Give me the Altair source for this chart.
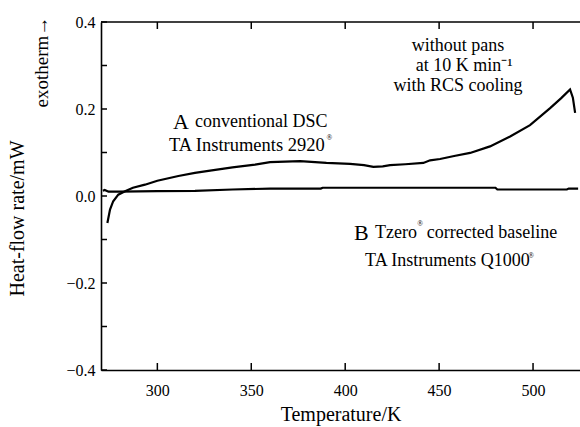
import altair as alt
import pandas as pd

# Curve A: conventional DSC (TA Instruments 2920)
T_A = [273.4, 274.8, 276.5, 279.2, 282.8, 287.0, 293.4, 300.0, 311.2, 320.0, 329.0,
       340.0, 352.0, 360.0, 376.0, 390.0, 402.6, 410.0, 415.0, 420.0, 423.9, 432.0,
       441.6, 445.2, 450.5, 458.0, 466.5, 477.1, 487.8, 498.4, 509.1, 515.0, 519.7,
       521.2, 522.4]
v_A = [-0.062, -0.031, -0.012, 0.003, 0.011, 0.019, 0.026, 0.035, 0.046, 0.053, 0.059,
       0.066, 0.072, 0.078, 0.080, 0.076, 0.074, 0.071, 0.067, 0.068, 0.071, 0.073,
       0.076, 0.082, 0.085, 0.092, 0.099, 0.114, 0.137, 0.163, 0.202, 0.225, 0.245,
       0.226, 0.191]

# Curve B: Tzero corrected baseline (TA Instruments Q1000)
T_B = [271.0, 272.0, 274.0, 280.0, 300.0, 320.0, 340.0, 360.0, 387.0, 388.0, 440.0,
       480.0, 481.0, 518.0, 519.0, 524.0]
v_B = [0.012, 0.014, 0.010, 0.010, 0.011, 0.012, 0.015, 0.017, 0.017, 0.019, 0.019,
       0.019, 0.015, 0.015, 0.017, 0.017]

x_ticks = [300, 350, 400, 450, 500]
y_ticks = [-0.4, -0.3, -0.2, -0.1, 0.0, 0.1, 0.2, 0.3, 0.4]
y_labels = [-0.4, -0.2, 0.0, 0.2, 0.4]

W, H = 479, 348
FONT = "Liberation Serif"

curves = pd.concat([
    pd.DataFrame({"T": T_A, "v": v_A, "s": "A"}),
    pd.DataFrame({"T": T_B, "v": v_B, "s": "B"}),
])

xs = alt.Scale(domain=[270, 525], nice=False, zero=False)
ys = alt.Scale(domain=[-0.4, 0.4], nice=False, zero=False)

lines = alt.Chart(curves).mark_line(color="black", strokeWidth=2.2).encode(
    x=alt.X("T:Q", scale=xs,
            axis=alt.Axis(values=x_ticks, format="d", title="Temperature/K",
                          ticks=False, labelPadding=12, titlePadding=6,
                          domainColor="black", domainWidth=1.6)),
    y=alt.Y("v:Q", scale=ys,
            axis=alt.Axis(values=y_labels, format=".1f", title="Heat-flow rate/mW",
                          ticks=False, labelPadding=6, titleX=-84, titleY=196,
                          titleBaseline="middle",
                          domainColor="black", domainWidth=1.6)),
    detail="s:N",
)

# inward ticks
left_ticks = alt.Chart(pd.DataFrame({"v": y_ticks})).mark_rule(color="black", strokeWidth=1.5).encode(
    y=alt.Y("v:Q", scale=ys), x=alt.value(0), x2=alt.value(6))
bottom_ticks = alt.Chart(pd.DataFrame({"T": x_ticks})).mark_rule(color="black", strokeWidth=1.5).encode(
    x=alt.X("T:Q", scale=xs), y=alt.value(H), y2=alt.value(H - 7))
top_ticks = alt.Chart(pd.DataFrame({"T": x_ticks})).mark_rule(color="black", strokeWidth=1.5).encode(
    x=alt.X("T:Q", scale=xs), y=alt.value(0), y2=alt.value(7))
top_line = alt.Chart(pd.DataFrame({"a": [0]})).mark_rule(color="black", strokeWidth=1.6).encode(
    x=alt.value(0), x2=alt.value(W), y=alt.value(0))

# annotations
ann_left = pd.DataFrame({
    "text": ["A", "conventional DSC", "TA Instruments 2920", "B", "Tzero", "corrected baseline",
             "TA Instruments Q1000"],
    "T": [308.3, 320.0, 306.2, 404.7, 415.9, 443.4, 410.6],
    "v": [0.171, 0.171, 0.118, -0.085, -0.085, -0.085, -0.150],
    "size": [22, 18, 18.5, 22, 18, 18, 18],
})
ann_sup = pd.DataFrame({
    "text": ["®", "®", "®"],
    "T": [390.0, 438.4, 497.5],
    "v": [0.134, -0.064, -0.137],
})
ann_center = pd.DataFrame({
    "text": ["without pans", "at 10 K min\u207b\u00b9", "with RCS cooling"],
    "T": [460.1, 463.3, 460.1],
    "v": [0.344, 0.298, 0.252],
})

t_left = alt.Chart(ann_left).mark_text(align="left", baseline="middle", font=FONT, color="black").encode(
    x=alt.X("T:Q", scale=xs), y=alt.Y("v:Q", scale=ys), text="text:N",
    size=alt.Size("size:Q", scale=None, legend=None))
t_sup = alt.Chart(ann_sup).mark_text(align="left", baseline="middle", font=FONT, color="black", fontSize=7.5).encode(
    x=alt.X("T:Q", scale=xs), y=alt.Y("v:Q", scale=ys), text="text:N")
t_center = alt.Chart(ann_center).mark_text(align="center", baseline="middle", font=FONT, color="black", fontSize=18).encode(
    x=alt.X("T:Q", scale=xs), y=alt.Y("v:Q", scale=ys), text="text:N")

exo = alt.Chart(pd.DataFrame({"text": ["exotherm\u2192"]})).mark_text(
    angle=270, align="center", baseline="middle", font=FONT, fontSize=19, color="black").encode(
    x=alt.value(-59), y=alt.value(40), text="text:N")

chart = alt.layer(lines, left_ticks, bottom_ticks, top_ticks, top_line,
                  t_left, t_sup, t_center, exo).properties(
    width=W, height=H,
    padding={"left": 101, "top": 22, "right": 0, "bottom": 57},
    autosize=alt.AutoSizeParams(type="none"),
    background="white",
).configure_view(stroke=None).configure_axis(
    labelFont=FONT, titleFont=FONT, labelFontSize=16, titleFontSize=20,
    titleFontWeight="normal", labelColor="black", titleColor="black", grid=False,
)

chart.save("out.html", embed_options={"renderer": "svg", "actions": False})
